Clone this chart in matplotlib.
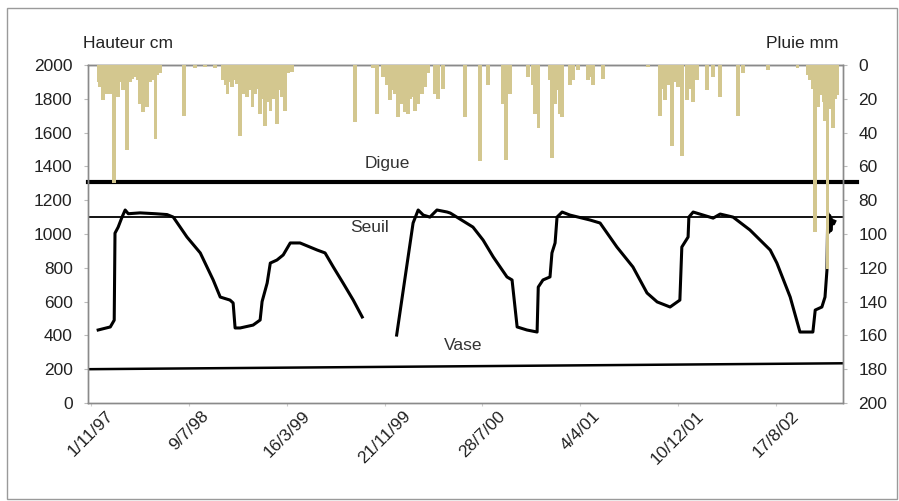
import matplotlib
matplotlib.use("Agg")
import matplotlib.pyplot as plt
from matplotlib.patches import Rectangle
import numpy as np
import pandas as pd

plt.rcParams["font.family"] = ["Liberation Sans", "DejaVu Sans"]

INK = "#222222"
GRID = "#8a8a8a"
RAIN = "#D3C78F"

# water level (cm), None = no record
level_dates = [
    "1997-11-19", "1997-12-20", "1997-12-30", "1998-01-01", "1998-01-09", "1998-01-19",
    "1998-01-27", "1998-02-04", "1998-03-06", "1998-04-14", "1998-05-14", "1998-05-30",
    "1998-07-04", "1998-08-07", "1998-09-09", "1998-09-27", "1998-10-22", "1998-10-30",
    "1998-11-04", "1998-11-17", "1998-12-20", "1999-01-07", "1999-01-12", "1999-01-25",
    "1999-02-02", "1999-02-19", "1999-03-07", "1999-03-25", "1999-04-19", "1999-06-02",
    "1999-06-22", "1999-07-13", "1999-08-07", "1999-09-02", "1999-09-25", "1999-11-01",
    "1999-12-22", "2000-02-02", "2000-02-15", "2000-02-28", "2000-03-16", "2000-04-03",
    "2000-04-29", "2000-05-07", "2000-07-04", "2000-07-30", "2000-08-25", "2000-09-29",
    "2000-10-12", "2000-10-25", "2000-11-19", "2000-12-15", "2000-12-18", "2000-12-30",
    "2001-01-17", "2001-01-22", "2001-01-30", "2001-02-04", "2001-02-17", "2001-03-09",
    "2001-04-29", "2001-05-25", "2001-07-07", "2001-08-17", "2001-09-22", "2001-10-18",
    "2001-11-20", "2001-12-15", "2001-12-20", "2002-01-05", "2002-01-07", "2002-01-18",
    "2002-03-10", "2002-03-28", "2002-04-30", "2002-06-12", "2002-08-03", "2002-08-20",
    "2002-09-23", "2002-10-18", "2002-11-20", "2002-11-26", "2002-12-13", "2002-12-21",
    "2002-12-26", "2002-12-28", "2002-12-31", "2003-01-02", "2003-01-05", "2003-01-08",
    "2003-01-12", "2003-01-15",
]
level_cm = [
    432, 450, 490, 1005, 1040, 1100,
    1142, 1120, 1125, 1120, 1115, 1100,
    982, 888, 728, 627, 609, 592,
    444, 444, 461, 491, 600, 710,
    828, 846, 876, 947, 947, 905,
    888, 805, 710, 609, 509, None,
    402, 1065, 1142, 1112, 1100, 1142,
    1130, 1124, 1041, 964, 864, 746,
    728, 450, 432, 420, 686, 728,
    746, 888, 947, 1100, 1130, 1112,
    1083, 1065, 923, 805, 651, 598,
    568, 609, 923, 982, 1100, 1130,
    1094, 1118, 1100, 1024, 905, 828,
    627, 420, 420, 550, 568, 627,
    787, 1125, 1010, 1110, 1020, 1085,
    1060, 1075,
]

# daily rainfall (mm)
rain_dates = [
    "1997-11-20", "1997-11-24", "1997-11-28", "1997-12-02", "1997-12-07", "1997-12-12",
    "1997-12-16", "1997-12-20", "1997-12-25", "1997-12-30", "1998-01-04", "1998-01-09",
    "1998-01-15", "1998-01-22", "1998-01-27", "1998-02-01", "1998-02-05", "1998-02-09",
    "1998-02-15", "1998-02-21", "1998-02-28", "1998-03-06", "1998-03-10", "1998-03-14",
    "1998-03-19", "1998-03-24", "1998-04-01", "1998-04-07", "1998-04-14", "1998-04-20",
    "1998-04-26", "1998-06-27", "1998-07-25", "1998-08-19", "1998-09-14", "1998-10-04",
    "1998-10-10", "1998-10-15", "1998-10-21", "1998-10-27", "1998-11-03", "1998-11-09",
    "1998-11-17", "1998-11-25", "1998-11-30", "1998-12-05", "1998-12-11", "1998-12-18",
    "1998-12-25", "1999-01-01", "1999-01-07", "1999-01-13", "1999-01-20", "1999-01-27",
    "1999-02-02", "1999-02-10", "1999-02-19", "1999-02-25", "1999-03-04", "1999-03-12",
    "1999-03-20", "1999-03-30", "1999-09-07", "1999-10-23", "1999-11-02", "1999-11-17",
    "1999-11-26", "1999-12-05", "1999-12-12", "1999-12-18", "1999-12-26", "2000-01-01",
    "2000-01-05", "2000-01-09", "2000-01-13", "2000-01-20", "2000-01-25", "2000-01-30",
    "2000-02-03", "2000-02-07", "2000-02-11", "2000-02-15", "2000-02-20", "2000-02-25",
    "2000-03-04", "2000-03-11", "2000-03-29", "2000-04-06", "2000-04-19", "2000-06-14",
    "2000-07-22", "2000-08-12", "2000-09-17", "2000-09-27", "2000-10-07", "2000-11-22",
    "2000-12-03", "2000-12-10", "2000-12-14", "2000-12-18", "2001-01-17", "2001-01-22",
    "2001-01-26", "2001-01-30", "2001-02-06", "2001-02-12", "2001-02-17", "2001-03-09",
    "2001-03-17", "2001-03-30", "2001-04-24", "2001-04-30", "2001-05-07", "2001-06-02",
    "2001-09-25", "2001-10-25", "2001-10-31", "2001-11-07", "2001-11-15", "2001-11-25",
    "2001-12-03", "2001-12-10", "2001-12-21", "2002-01-02", "2002-01-10", "2002-01-18",
    "2002-01-28", "2002-02-23", "2002-03-10", "2002-03-28", "2002-05-13", "2002-05-26",
    "2002-07-28", "2002-10-12", "2002-11-06", "2002-11-13", "2002-11-19", "2002-11-26",
    "2002-12-03", "2002-12-08", "2002-12-13", "2002-12-17", "2002-12-21", "2002-12-27",
    "2003-01-03", "2003-01-07", "2003-01-11", "2003-01-16", "2003-01-21",
]
rain_mm = [
    10, 13, 11, 21, 12, 17,
    12, 17, 11, 70, 11, 19,
    10, 15, 9, 50, 8, 10,
    8, 7, 9, 23, 12, 28,
    11, 25, 10, 9, 44, 6,
    5, 30, 2, 1, 2, 9,
    12, 17, 10, 13, 9, 11,
    42, 17, 14, 19, 15, 25,
    17, 14, 29, 20, 36, 22,
    27, 20, 35, 15, 19, 27,
    5, 4, 34, 2, 29, 7,
    12, 21, 15, 17, 31, 16,
    23, 18, 28, 29, 20, 19,
    15, 27, 18, 23, 14, 17,
    13, 5, 17, 20, 14, 31,
    57, 12, 23, 56, 17, 7,
    12, 29, 20, 37, 9, 55,
    18, 23, 15, 29, 31, 12,
    9, 3, 9, 7, 12, 8,
    1, 30, 14, 21, 12, 48,
    10, 13, 54, 21, 14, 22,
    9, 15, 7, 19, 30, 5,
    3, 2, 6, 9, 14, 99,
    25, 16, 18, 22, 33, 121,
    26, 20, 37, 20, 18,
]

# reference levels (cm)
digue_cm = 1310
seuil_cm = 1100
vase_cm = [200, 235]  # start / end of the record

tick_labels = ["1/11/97", "9/7/98", "16/3/99", "21/11/99",
               "28/7/00", "4/4/01", "10/12/01", "17/8/02"]

level_x = pd.to_datetime(level_dates)
level_y = np.array([np.nan if v is None else v for v in level_cm], dtype=float)
rain_x = pd.to_datetime(rain_dates)
x0, x1 = pd.Timestamp("1997-10-24"), pd.Timestamp("2003-02-05")
ticks = pd.date_range("1997-11-01", periods=len(tick_labels), freq="250D")

fig = plt.figure(figsize=(8.99, 5.01), dpi=100)
fig.patch.set_facecolor("white")
ax = fig.add_axes([88 / 899, 1 - 403 / 501, 755 / 899, 338 / 501])
ax2 = ax.twinx()

# chart border
fig.add_artist(Rectangle((7 / 899, 2 / 501), 890 / 899, 491 / 501,
                         transform=fig.transFigure, fill=False,
                         edgecolor="#9a9a9a", lw=1.0))

ax.plot(level_x, level_y, color="black", lw=2.2, solid_joinstyle="round", zorder=3)
ax.axhline(digue_cm, xmin=0, xmax=1.019, color="black", lw=3.0, clip_on=False, zorder=2)
ax.axhline(seuil_cm, color="black", lw=1.3, zorder=2)
ax.plot([x0, x1], vase_cm, color="black", lw=1.8, zorder=2)

ax.text(pd.Timestamp("1999-11-27"), 1420, "Digue", ha="center", va="center",
        fontsize=12.5, color="#333333")
ax.text(pd.Timestamp("1999-10-15"), 1036, "Seuil", ha="center", va="center",
        fontsize=12.5, color="#333333")
ax.text(pd.Timestamp("2000-06-09"), 343, "Vase", ha="center", va="center",
        fontsize=12.5, color="#333333")

ax2.bar(rain_x, rain_mm, width=9, color=RAIN, edgecolor="none", zorder=4)

ax.set_xlim(x0, x1)
ax.set_ylim(0, 2000)
ax.set_yticks(range(0, 2001, 200))
ax2.set_ylim(200, 0)
ax2.set_yticks(range(0, 201, 20))
ax.set_xticks(ticks)
ax.set_xticklabels(tick_labels, rotation=45, ha="center", va="top")

for a in (ax, ax2):
    for s in a.spines.values():
        s.set_color(GRID)
        s.set_linewidth(1.0)
ax.spines["top"].set_color("#555555")
ax.tick_params(axis="y", direction="out", length=3, width=0.8, color="#bbbbbb",
               pad=8, labelsize=12.5, labelcolor=INK)
ax2.tick_params(axis="y", direction="out", length=3, width=0.8, color="#bbbbbb",
                pad=8, labelsize=12.5, labelcolor=INK)
ax.tick_params(axis="x", direction="out", length=2, width=0.8, color="#cccccc",
               pad=2, labelsize=12.5, labelcolor=INK)

fig.text(83 / 899, 1 - 43 / 501, "Hauteur cm", ha="left", va="center",
         fontsize=12.5, color=INK)
fig.text(838 / 899, 1 - 43 / 501, "Pluie mm", ha="right", va="center",
         fontsize=12.5, color=INK)

fig.savefig("out.png", dpi=100, facecolor="white")
